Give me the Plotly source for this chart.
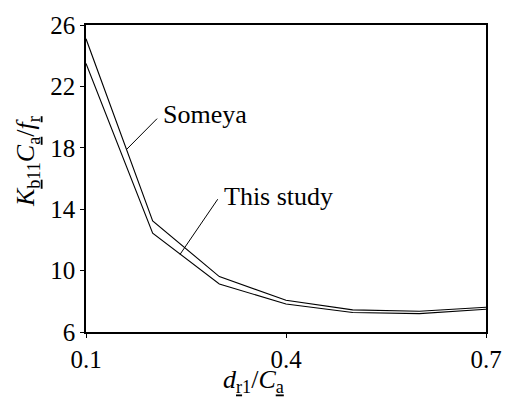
import plotly.graph_objects as go

x_vals = [0.1, 0.2, 0.3, 0.4, 0.5, 0.6, 0.7]
someya = [25.1, 13.24, 9.61, 8.07, 7.44, 7.35, 7.61]
this_study = [23.5, 12.44, 9.13, 7.82, 7.27, 7.2, 7.48]
x_ticks = [0.1, 0.4, 0.7]
y_ticks = [6, 10, 14, 18, 22, 26]

FONT = "Liberation Serif"

fig = go.Figure()
fig.add_trace(go.Scatter(x=x_vals, y=someya, mode="lines",
                         line=dict(color="black", width=1.1), name="Someya"))
fig.add_trace(go.Scatter(x=x_vals, y=this_study, mode="lines",
                         line=dict(color="black", width=1.1), name="This study"))

# leader lines
fig.add_shape(type="line", x0=0.161, y0=17.9, x1=0.2066, y1=19.9,
              line=dict(color="black", width=1))
fig.add_shape(type="line", x0=0.2411, y0=11.06, x1=0.2976, y1=14.65,
              line=dict(color="black", width=1))

fig.add_annotation(x=0.2125, y=20.16, text="Someya", showarrow=False,
                   xanchor="left", yanchor="middle",
                   font=dict(family=FONT, size=26, color="black"))
fig.add_annotation(x=0.3035, y=14.84, text="This study", showarrow=False,
                   xanchor="left", yanchor="middle",
                   font=dict(family=FONT, size=26, color="black"))

# axis titles
fig.add_annotation(xref="paper", yref="paper", x=0.418, y=-0.161,
                   text="<i>d</i><sub><u>r</u>1</sub>/<i>C</i><sub><u>a</u></sub>",
                   showarrow=False, xanchor="center", yanchor="middle",
                   font=dict(family=FONT, size=26, color="black"))
fig.add_annotation(xref="paper", yref="paper", x=-0.147, y=0.554,
                   text="<i>K</i><sub><u>b</u>11</sub><i>C</i><sub><u>a</u></sub>/<i>f</i><sub><u>r</u></sub>",
                   showarrow=False, xanchor="center", yanchor="middle", textangle=-90,
                   font=dict(family=FONT, size=26, color="black"))

fig.update_xaxes(range=[0.1, 0.7], tickvals=x_ticks, ticktext=[str(v) for v in x_ticks],
                 showgrid=False, zeroline=False, showline=True, linecolor="black",
                 linewidth=1.5, mirror=True, ticks="outside", ticklen=4, tickwidth=1,
                 tickcolor="black", tickfont=dict(family=FONT, size=25, color="black"))
fig.update_yaxes(range=[6, 26], tickvals=y_ticks, showgrid=False, zeroline=False,
                 showline=True, linecolor="black", linewidth=1.5, mirror=True,
                 ticks="outside", ticklen=4, tickwidth=1, tickcolor="black",
                 tickfont=dict(family=FONT, size=25, color="black"))

fig.update_layout(width=514, height=402, showlegend=False,
                  margin=dict(l=86, r=21, t=16, b=70),
                  font=dict(family=FONT, color="black"),
                  paper_bgcolor="white", plot_bgcolor="white")

fig.write_html("out.html")
